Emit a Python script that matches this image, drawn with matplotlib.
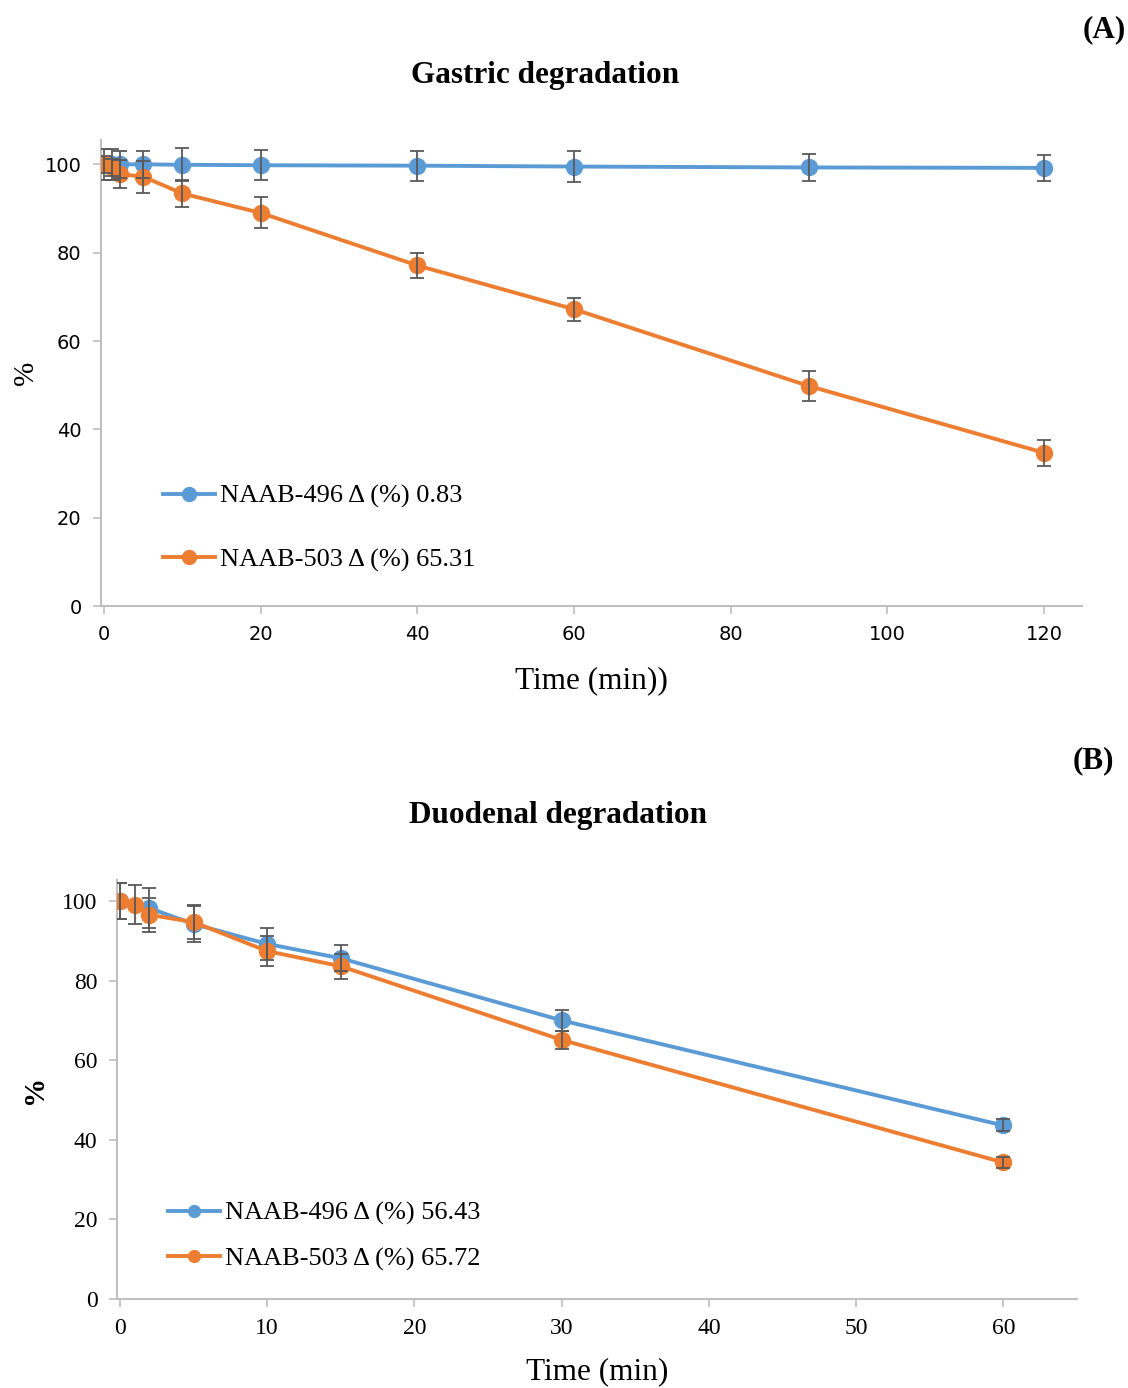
import matplotlib
matplotlib.use("Agg")
import matplotlib.pyplot as plt

# Gastric degradation (A)
gas_t_496 = [0, 1, 2, 5, 10, 20, 40, 60, 90, 120]
gas_v_496 = [100, 100, 100, 100, 99.9, 99.8, 99.7, 99.5, 99.3, 99.2]
gas_e_496 = [3.5, 3.5, 3.0, 3.0, 3.7, 3.4, 3.4, 3.5, 3.0, 3.0]
gas_t_503 = [0, 1, 2, 5, 10, 20, 40, 60, 90, 120]
gas_v_503 = [100, 99.3, 97.8, 97.2, 93.4, 89.0, 77.1, 67.2, 49.8, 34.7]
gas_e_503 = [2.0, 2.0, 3.2, 3.6, 3.0, 3.5, 2.9, 2.6, 3.3, 2.9]

# Duodenal degradation (B)
duo_t_496 = [0, 2, 5, 10, 15, 30, 60]
duo_v_496 = [100, 98.2, 94.2, 89.2, 85.6, 70.0, 43.6]
duo_e_496 = [4.5, 5.0, 4.5, 4.0, 3.3, 2.7, 1.5]
duo_t_503 = [0, 1, 2, 5, 10, 15, 30, 60]
duo_v_503 = [100, 99.1, 96.5, 94.7, 87.4, 83.6, 65.1, 34.3]
duo_e_503 = [4.5, 5.0, 4.2, 4.3, 3.8, 3.1, 2.3, 1.5]

labels_a = ["NAAB-496 \u0394 (%) 0.83", "NAAB-503 \u0394 (%) 65.31"]
labels_b = ["NAAB-496 \u0394 (%) 56.43", "NAAB-503 \u0394 (%) 65.72"]

BLUE = "#5B9BD5"
ORANGE = "#ED7D31"
ERR = "#595959"
AXC = "#BFBFBF"
SERIF = ["Liberation Serif", "DejaVu Serif"]
SANS = ["DejaVu Sans"]
W, H = 1128, 1388

fig = plt.figure(figsize=(W / 100, H / 100), dpi=100)


def style_axes(ax, tickfont, ticksize):
    for s in ("top", "right"):
        ax.spines[s].set_visible(False)
    for s in ("left", "bottom"):
        ax.spines[s].set_color(AXC)
        ax.spines[s].set_linewidth(1.5)
    ax.tick_params(axis="both", colors=AXC, length=6, width=1.2,
                   labelcolor="black", labelsize=ticksize, pad=8)
    for lab in ax.get_xticklabels() + ax.get_yticklabels():
        lab.set_family(tickfont)


def draw_series(ax, t, v, e, color, label):
    ax.errorbar(t, v, yerr=e, fmt="none", ecolor=ERR, elinewidth=1.3,
                capsize=5, capthick=1.3, zorder=4)
    ax.plot(t, v, "-o", color=color, lw=2.8, ms=11.5, label=label, zorder=3)


def add_legend(ax, x_px, y_px, spacing, msize):
    leg = ax.legend(loc="center left", bbox_to_anchor=(x_px / W, 1 - y_px / H),
                    bbox_transform=fig.transFigure, borderaxespad=0,
                    frameon=False, prop={"family": SERIF, "size": 19},
                    labelspacing=spacing, handlelength=1.97,
                    handletextpad=0.2)
    for h in leg.legend_handles:
        h.set_markersize(msize)
    return leg


# panel A
ax1 = fig.add_axes([0.0895, 0.5634, 0.87, 0.3357])
draw_series(ax1, gas_t_496, gas_v_496, gas_e_496, BLUE, labels_a[0])
draw_series(ax1, gas_t_503, gas_v_503, gas_e_503, ORANGE, labels_a[1])
ax1.set_xlim(-0.4, 124.9)
ax1.set_ylim(0, 105.5)
ax1.set_xticks(range(0, 121, 20))
ax1.set_yticks(range(0, 101, 20))
style_axes(ax1, SANS, 14)
ax1.set_xlabel("Time (min))", family=SERIF, fontsize=22.5, labelpad=16)
ax1.set_ylabel("%", family=SERIF, fontsize=21, labelpad=4)
add_legend(ax1, 152, 528, 1.5, 10)

# panel B
ax2 = fig.add_axes([0.1037, 0.0641, 0.851, 0.302])
draw_series(ax2, duo_t_496, duo_v_496, duo_e_496, BLUE, labels_b[0])
draw_series(ax2, duo_t_503, duo_v_503, duo_e_503, ORANGE, labels_b[1])
ax2.set_xlim(-0.2, 65)
ax2.set_ylim(0, 105.3)
ax2.set_xticks(range(0, 61, 10))
ax2.set_yticks(range(0, 101, 20))
style_axes(ax2, SERIF, 17)
ax2.set_xlabel("Time (min)", family=SERIF, fontsize=22.5, labelpad=13)
ax2.set_ylabel("%", family=SERIF, fontsize=21, fontweight="bold", labelpad=10)
add_legend(ax2, 157, 1236, 0.82, 8.5)

# titles and panel letters
fig.text(545 / W, 1 - 76 / H, "Gastric degradation", family=SERIF,
         fontsize=22.5, fontweight="bold", ha="center", va="center")
fig.text(1104 / W, 1 - 30 / H, "(A)", family=SERIF,
         fontsize=22.5, fontweight="bold", ha="center", va="center")
fig.text(558 / W, 1 - 816 / H, "Duodenal degradation", family=SERIF,
         fontsize=22.5, fontweight="bold", ha="center", va="center")
fig.text(1093 / W, 1 - 761 / H, "(B)", family=SERIF,
         fontsize=22.5, fontweight="bold", ha="center", va="center")

fig.savefig("out.png", dpi=100)
